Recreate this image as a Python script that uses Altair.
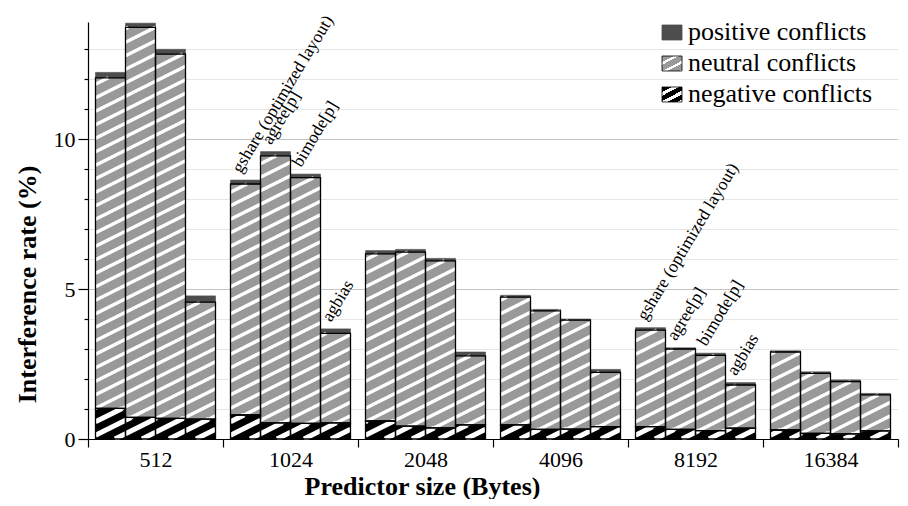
import json
import altair as alt
import pandas as pd

# ---------------- data ----------------
sizes = ["512", "1024", "2048", "4096", "8192", "16384"]
predictors = ["gshare (optimized layout)", "agree[p]", "bimode[p]", "agbias"]
segments = ["negative conflicts", "neutral conflicts", "positive conflicts"]
annotated_sizes = ["1024", "8192"]

# one row per predictor size, one value per predictor (gshare, agree, bimode, agbias)
negative = [
    [1.02, 0.72, 0.69, 0.66],
    [0.80, 0.54, 0.52, 0.54],
    [0.60, 0.43, 0.37, 0.47],
    [0.47, 0.32, 0.33, 0.41],
    [0.41, 0.32, 0.28, 0.36],
    [0.30, 0.19, 0.17, 0.27],
]
neutral = [
    [11.02, 13.00, 12.14, 3.90],
    [7.70, 8.90, 8.19, 2.98],
    [5.57, 5.80, 5.57, 2.30],
    [4.26, 3.95, 3.63, 1.81],
    [3.22, 2.68, 2.51, 1.44],
    [2.60, 2.00, 1.74, 1.20],
]
positive = [
    [0.18, 0.14, 0.16, 0.21],
    [0.13, 0.14, 0.12, 0.15],
    [0.11, 0.09, 0.08, 0.13],
    [0.06, 0.05, 0.04, 0.10],
    [0.08, 0.04, 0.07, 0.08],
    [0.04, 0.05, 0.06, 0.05],
]

rows = []
for gi, size in enumerate(sizes):
    for pi, pred in enumerate(predictors):
        for si, (seg, vals) in enumerate(zip(segments, [negative, neutral, positive])):
            rows.append(dict(size=size, gi=gi, predictor=pred, pi=pi,
                             segment=seg, si=si, value=vals[gi][pi],
                             annotated=size in annotated_sizes))
df = pd.DataFrame(rows)

# ---------------- layout / style constants ----------------
GROUP = 4.5      # group width in bar widths
PAD = 0.25       # gap before first bar of group (bar widths)
SLOPE = 0.5      # hatch slope
PERIOD = 0.45    # hatch vertical period
FONT = "Liberation Serif"
NEU = "#999999"
POS = "#4d4d4d"
TICKFS = 22
TITLEFS = 26

xscale = alt.Scale(domain=[0, GROUP * len(sizes)], nice=False, zero=False)
yscale = alt.Scale(domain=[0, 13.9], nice=False, zero=True)

x_values = sorted([GROUP * k for k in range(len(sizes) + 1)] +
                  [GROUP * k + GROUP / 2 for k in range(len(sizes))])
x_label_expr = "datum.value % {g} === {h} ? {arr}[floor(datum.value / {g})] : ''".format(
    g=GROUP, h=GROUP / 2, arr=json.dumps(sizes))

x_axis = alt.Axis(
    values=x_values, labelExpr=x_label_expr, grid=False,
    tickSize=8, tickWidth=1.2, tickColor="black",
    tickOpacity={"condition": {"test": "datum.value % {g} === 0".format(g=GROUP), "value": 1}, "value": 0},
    labelPadding=2, labelFontSize=TICKFS, labelFont=FONT, labelColor="black",
    labelOverlap=False, labelFlush=False,
    domainColor="black", domainWidth=1.2,
    title="Predictor size (Bytes)", titleFont=FONT, titleFontSize=TITLEFS,
    titleFontWeight="bold", titleColor="black",
    titleX=334, titleY=47, titleAlign="center", titleBaseline="middle",
)
y_axis = alt.Axis(
    values=list(range(14)),
    labelExpr="datum.value % 5 === 0 ? datum.label : ''",
    tickSize={"condition": {"test": "datum.value % 5 !== 0", "value": 4}, "value": 10},
    tickColor="black", tickWidth=1.2,
    labelPadding=3, labelFontSize=TICKFS, labelFont=FONT, labelColor="black",
    labelOverlap=False,
    grid=True,
    gridColor={"condition": {"test": "datum.value % 5 === 0", "value": "#c4c4c4"}, "value": "#e6e6e6"},
    gridWidth=1.2,
    domainColor="black", domainWidth=1.2,
    title="Interference rate (%)", titleFont=FONT, titleFontSize=TITLEFS,
    titleFontWeight="bold", titleColor="black",
    titleX=-61, titleY=262, titleAlign="center", titleBaseline="middle", titleAngle=270,
)

base = alt.Chart(df).transform_stack(
    stack="value", groupby=["gi", "pi"], as_=["y0", "y1"],
    sort=[alt.SortField("si", order="ascending")],
).transform_calculate(
    xl="datum.gi * {g} + {p} + datum.pi".format(g=GROUP, p=PAD),
    xr="datum.gi * {g} + {p} + datum.pi + 1".format(g=GROUP, p=PAD),
)

fill_scale = alt.Scale(domain=segments, range=["#000000", NEU, POS])

bars = base.mark_rect(strokeWidth=0.6).encode(
    x=alt.X("xl:Q", scale=xscale, axis=x_axis),
    x2="xr:Q",
    y=alt.Y("y0:Q", scale=yscale, axis=y_axis),
    y2="y1:Q",
    fill=alt.Fill("segment:N", scale=fill_scale, legend=None),
    stroke=alt.Stroke("segment:N", scale=fill_scale, legend=None),
)

S, P = SLOPE, PERIOD
stripes = base.transform_filter("datum.si < 2").transform_calculate(
    kmin="floor((datum.y0 - {s} * datum.xr) / {p})".format(s=S, p=P),
    kmax="ceil((datum.y1 - {s} * datum.xl) / {p})".format(s=S, p=P),
).transform_calculate(
    ks="sequence(datum.kmin, datum.kmax + 1)"
).transform_flatten(["ks"], as_=["k"]).transform_calculate(
    ya="{s} * datum.xl + datum.k * {p}".format(s=S, p=P),
).transform_calculate(
    yb="datum.ya + {s}".format(s=S),
).transform_filter("datum.yb > datum.y0 && datum.ya < datum.y1").transform_calculate(
    xs="datum.ya < datum.y0 ? datum.xl + (datum.y0 - datum.ya) / {s} : datum.xl".format(s=S),
    ys="max(datum.ya, datum.y0)",
    xe="datum.yb > datum.y1 ? datum.xl + (datum.y1 - datum.ya) / {s} : datum.xr".format(s=S),
    ye="min(datum.yb, datum.y1)",
).mark_rule(color="white", strokeCap="butt").encode(
    x=alt.X("xs:Q", scale=xscale, axis=x_axis),
    x2="xe:Q",
    y=alt.Y("ys:Q", scale=yscale, axis=y_axis),
    y2="ye:Q",
    strokeWidth=alt.StrokeWidth("segment:N",
                                scale=alt.Scale(domain=segments[:2], range=[5, 3.5]),
                                legend=None),
)

outlines = base.transform_filter("datum.si < 2").mark_rect(
    fill="white", fillOpacity=0, stroke="black", strokeWidth=1.3
).encode(
    x=alt.X("xl:Q", scale=xscale, axis=x_axis),
    x2="xr:Q",
    y=alt.Y("y0:Q", scale=yscale, axis=y_axis),
    y2="y1:Q",
)

notes = base.transform_filter("datum.si == 2 && datum.annotated").transform_calculate(
    xc="datum.xl + 0.5"
).mark_text(angle=301, align="left", baseline="alphabetic", dx=3, dy=-7,
            fontSize=17.5, font=FONT, color="black").encode(
    x=alt.X("xc:Q", scale=xscale, axis=x_axis),
    y=alt.Y("y1:Q", scale=yscale, axis=y_axis),
    text="predictor:N",
)


def hatch(color, white_frac):
    stops = []
    n = 3
    for i in range(n):
        a = i / n
        b = a + (1 - white_frac) / n
        c = (i + 1) / n
        stops += [alt.GradientStop(color=color, offset=a),
                  alt.GradientStop(color=color, offset=b),
                  alt.GradientStop(color="white", offset=b),
                  alt.GradientStop(color="white", offset=c)]
    return alt.LinearGradient(gradient="linear", x1=0, y1=0, x2=0.82, y2=1.2, stops=stops)


legend_fills = {
    "positive conflicts": POS,
    "neutral conflicts": hatch(NEU, 0.3),
    "negative conflicts": hatch("#000000", 0.42),
}
legend_layers = []
for i, label in enumerate(reversed(segments)):
    mid = 10 + 31 * i
    ldf = pd.DataFrame({"label": [label]})
    legend_layers.append(
        alt.Chart(ldf).mark_rect(
            fill=legend_fills[label],
            stroke=POS if label == "positive conflicts" else "black", strokeWidth=0.8,
        ).encode(x=alt.value(574), x2=alt.value(594), y=alt.value(mid - 7), y2=alt.value(mid + 8))
    )
    legend_layers.append(
        alt.Chart(ldf).mark_text(align="left", baseline="middle", fontSize=26,
                                 font=FONT, color="black").encode(
            x=alt.value(600), y=alt.value(mid), text="label:N")
    )

chart = alt.layer(bars, stripes, outlines, notes, *legend_layers).properties(
    width=810, height=417,
    autosize=alt.AutoSizeParams(type="none"),
    padding={"left": 80, "top": 14, "right": 2, "bottom": 60},
).configure(font=FONT, view=alt.ViewConfig(stroke=None))

chart.save("out.html", embed_options={"renderer": "svg", "actions": False})
